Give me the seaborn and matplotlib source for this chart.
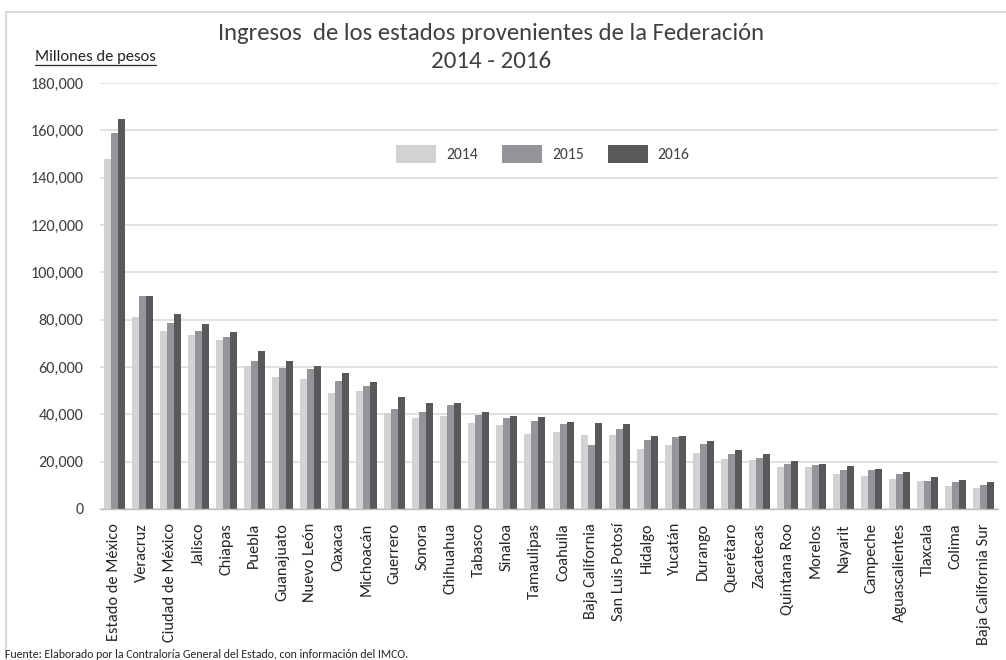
import matplotlib
matplotlib.use("Agg")
import matplotlib.pyplot as plt
import numpy as np
import pandas as pd
import seaborn as sns
from matplotlib.patches import Patch
from matplotlib.lines import Line2D
from matplotlib.ticker import FuncFormatter, FixedLocator

# ---------------- data ----------------
states = ["Estado de México", "Veracruz", "Ciudad de México", "Jalisco", "Chiapas",
          "Puebla", "Guanajuato", "Nuevo León", "Oaxaca", "Michoacán", "Guerrero",
          "Sonora", "Chihuahua", "Tabasco", "Sinaloa", "Tamaulipas", "Coahuila",
          "Baja California", "San Luis Potosí", "Hidalgo", "Yucatán", "Durango",
          "Querétaro", "Zacatecas", "Quintana Roo", "Morelos", "Nayarit", "Campeche",
          "Aguascalientes", "Tlaxcala", "Colima", "Baja California Sur"]
years = ["2014", "2015", "2016"]
v2014 = [147700, 81300, 75300, 73600, 71200, 60300, 55700, 55000, 49000, 50000, 40600,
         38500, 39200, 36400, 35500, 31700, 32600, 31300, 31400, 25400, 26900, 23500,
         21100, 20800, 17700, 17800, 14600, 14100, 12500, 11800, 9700, 8700]
v2015 = [159000, 90200, 78500, 75200, 72700, 62600, 59700, 59200, 54200, 52100, 42200,
         40900, 44000, 39900, 38400, 37000, 35800, 27200, 33800, 29200, 30300, 27500,
         23200, 21700, 19200, 18700, 16500, 16300, 14800, 12000, 11500, 10300]
v2016 = [164900, 89800, 82600, 78000, 75000, 66800, 62400, 60300, 57300, 53800, 47400,
         45000, 44700, 41100, 39500, 38700, 36700, 36500, 35900, 31000, 30800, 28600,
         25100, 23100, 20400, 19200, 18000, 17000, 15800, 13700, 12100, 11500]
yticks = [0, 20000, 40000, 60000, 80000, 100000, 120000, 140000, 160000, 180000]

title1 = "Ingresos  de los estados provenientes de la Federación"
title2 = "2014 - 2016"
units = "Millones de pesos"
source = "Fuente: Elaborado por la Contraloría General del Estado, con información del IMCO."

colors = {"2014": "#d1d2d4", "2015": "#939598", "2016": "#58595b"}

df = pd.DataFrame({
    "Estado": states * 3,
    "Año": [y for y in years for _ in states],
    "Valor": v2014 + v2015 + v2016,
})

# ---------------- style ----------------
sns.set_theme(style="white")
plt.rcParams["font.family"] = ["Carlito", "Lato", "DejaVu Sans"]
TXT = "#404040"

W, H = 1006, 660
fig = plt.figure(figsize=(W / 100, H / 100), dpi=100)
fig.patch.set_facecolor("white")

def fx(px):
    return px / W

def fy(py):
    return 1 - py / H

ax = fig.add_axes([fx(100), fy(509), fx(998) - fx(100), fy(83) - fy(509)])

sns.barplot(data=df, x="Estado", y="Valor", hue="Año", order=states, hue_order=years,
            palette=colors, width=0.75, saturation=1, edgecolor="none",
            linewidth=0, ax=ax, legend=False)

ax.set_xlim(-0.5, len(states) - 0.5)
ax.set_ylim(0, 180000)
ax.set_xlabel("")
ax.set_ylabel("")
ax.set_yticks(yticks)
ax.yaxis.set_major_formatter(FuncFormatter(lambda v, p: f"{int(v):,}"))
ax.grid(axis="y", color="#d9d9d9", linewidth=1.1)
ax.set_axisbelow(True)
for s in ["left", "right", "top"]:
    ax.spines[s].set_visible(False)
ax.spines["bottom"].set_color("#bfbfbf")
ax.spines["bottom"].set_linewidth(1.0)

ax.tick_params(axis="y", length=0, pad=12, labelcolor=TXT, labelsize=11)
ax.tick_params(axis="x", which="major", length=0, pad=10, labelcolor="#262626",
               labelsize=11, rotation=90)
ax.xaxis.set_minor_locator(FixedLocator(np.arange(-0.5, len(states), 1.0)))
ax.tick_params(axis="x", which="minor", length=5, width=1, color="#bfbfbf",
               direction="out")

# legend
handles = [Patch(facecolor=colors[y], edgecolor="none", label=y) for y in years]
leg = fig.legend(handles=handles, loc="center", bbox_to_anchor=(fx(543), fy(154)),
                 ncol=3, frameon=False, fontsize=11, handlelength=2.6,
                 handleheight=1.5, handletextpad=0.65, columnspacing=1.6,
                 borderpad=0, labelcolor=TXT)

# texts
t1 = fig.text(fx(491), fy(34), title1, ha="center", va="center", fontsize=15,
              color=TXT, fontweight="light")
t2 = fig.text(fx(491), fy(61), title2, ha="center", va="center", fontsize=15,
              color=TXT, fontweight="light")
tu = fig.text(fx(35), fy(57), units, ha="left", va="center", fontsize=10, color="#262626")
ts = fig.text(fx(5), fy(649), source, ha="left", va="top", fontsize=8, color="#262626")

# frame lines of chart area
fig.add_artist(Line2D([fx(6), fx(1006)], [fy(12), fy(12)], color="#d9d9d9", lw=1.5))
fig.add_artist(Line2D([fx(6), fx(6)], [fy(12), fy(660)], color="#d9d9d9", lw=1.5))

# ---------------- fit text sizes to measured widths ----------------
fig.canvas.draw()
r = fig.canvas.get_renderer()

def fit(t, target, use_h=False):
    for _ in range(4):
        bb = t.get_window_extent(r)
        cur = bb.height if use_h else bb.width
        if cur <= 0:
            return
        t.set_fontsize(t.get_fontsize() * target / cur)

fit(t1, 545)
fit(t2, 120)
fit(tu, 120)
fit(ts, 405)

# x tick labels: "Estado de México" ~118 px long
lbl = ax.get_xticklabels()[0]
fit(lbl, 118, use_h=True)
ax.tick_params(axis="x", which="major", labelsize=lbl.get_fontsize())

# y tick labels: "20,000" ~45 px wide
fig.canvas.draw()
ylbl = [t for t in ax.get_yticklabels() if t.get_text() == "20,000"][0]
fit(ylbl, 45)
ax.tick_params(axis="y", labelsize=ylbl.get_fontsize())

# legend text "2014" ~32 px wide
lt = leg.get_texts()[0]
fit(lt, 32)
for t in leg.get_texts():
    t.set_fontsize(lt.get_fontsize())

# underline for units label
fig.canvas.draw()
bb = tu.get_window_extent(r)
fig.add_artist(Line2D([bb.x0 / W, bb.x1 / W], [(bb.y0 - 1) / H, (bb.y0 - 1) / H],
                      color="#262626", lw=0.9))

fig.savefig("out.png", dpi=100, facecolor="white")
